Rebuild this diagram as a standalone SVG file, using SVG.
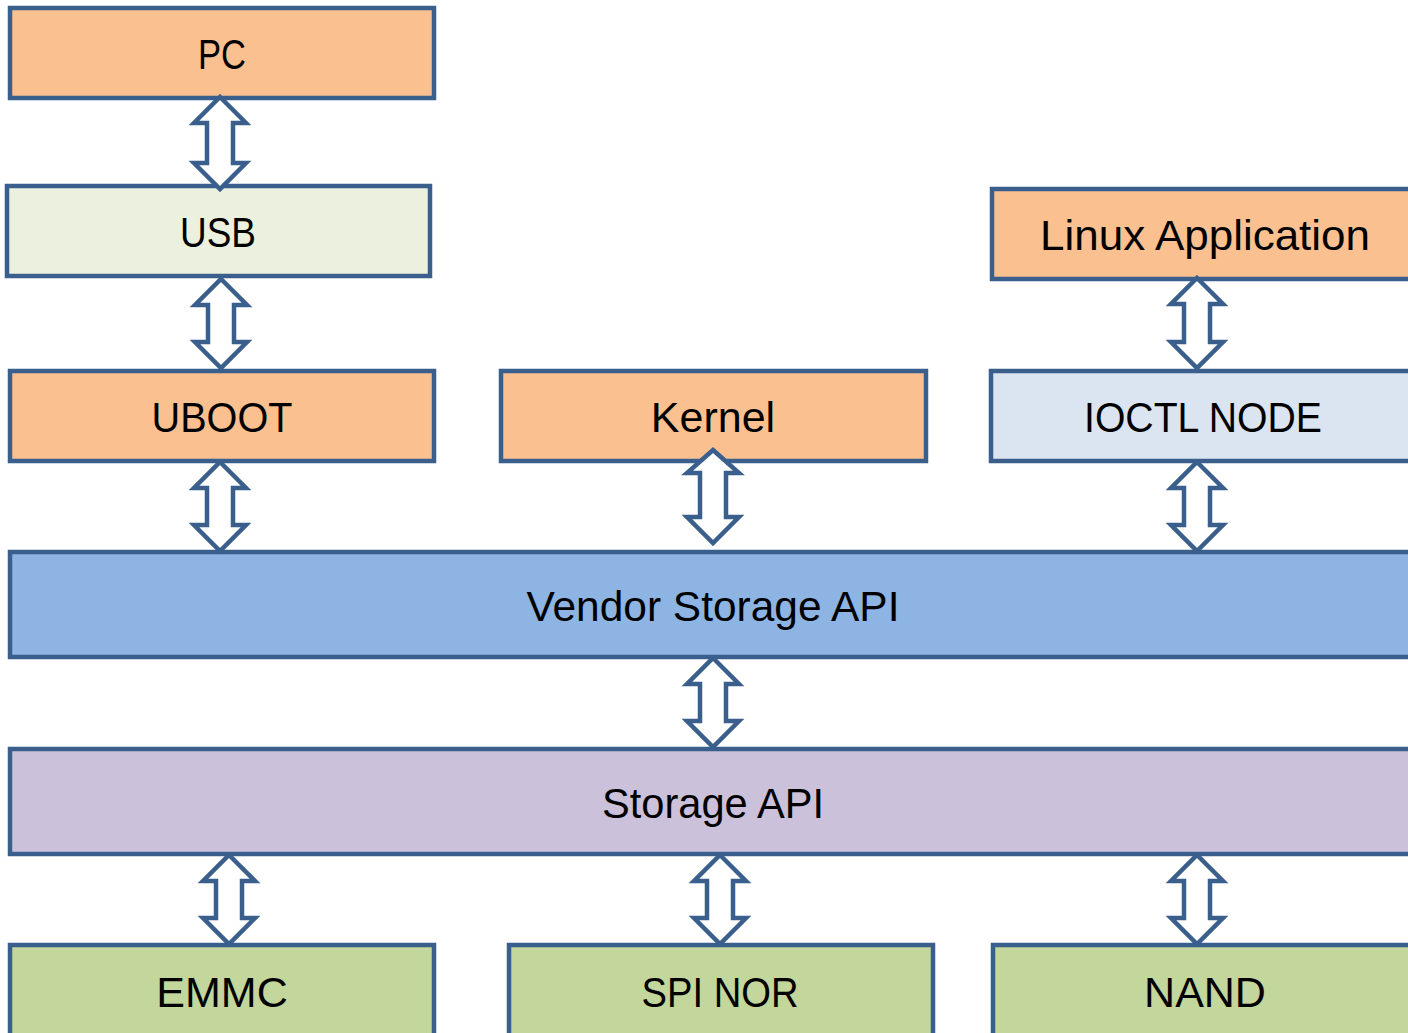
<svg xmlns="http://www.w3.org/2000/svg" width="1408" height="1033" viewBox="0 0 1408 1033">
<style>
.b{stroke:#3a5f8c;stroke-width:4.5}
.t{font-family:"Liberation Sans",Arial,sans-serif;font-size:43px;fill:#000;text-anchor:middle}
.a{fill:#fff;stroke:#3a5f8c;stroke-width:4.5;stroke-linejoin:miter}
.o{fill:#fac090}
</style>
<rect width="1408" height="1033" fill="#fff"/>
<g id="pc"><rect class="b o" x="10" y="8" width="424" height="90"/><text class="t" x="222" y="69" textLength="48" lengthAdjust="spacingAndGlyphs">PC</text></g>
<g id="usb"><rect class="b" fill="#ebf1de" x="7" y="186" width="423" height="90"/><text class="t" x="218" y="247" textLength="76" lengthAdjust="spacingAndGlyphs">USB</text></g>
<g id="uboot"><rect class="b o" x="10" y="371" width="424" height="90"/><text class="t" x="222" y="432" textLength="141" lengthAdjust="spacingAndGlyphs">UBOOT</text></g>
<g id="kernel"><rect class="b o" x="501" y="371" width="425" height="90"/><text class="t" x="713" y="432">Kernel</text></g>
<g id="linuxapp"><rect class="b o" x="992" y="189" width="430" height="90"/><text class="t" x="1205" y="250" textLength="330" lengthAdjust="spacingAndGlyphs">Linux Application</text></g>
<g id="ioctl"><rect class="b" fill="#dbe5f1" x="991" y="371" width="430" height="90"/><text class="t" x="1203" y="432" textLength="238" lengthAdjust="spacingAndGlyphs">IOCTL NODE</text></g>
<g id="vendor"><rect class="b" fill="#8eb4e3" x="10" y="552" width="1410" height="105"/><text class="t" x="713" y="621" textLength="373" lengthAdjust="spacingAndGlyphs">Vendor Storage API</text></g>
<g id="storage"><rect class="b" fill="#ccc1da" x="10" y="749" width="1410" height="105"/><text class="t" x="713" y="818" textLength="222" lengthAdjust="spacingAndGlyphs">Storage API</text></g>
<g id="emmc"><rect class="b" fill="#c3d69b" x="10" y="945" width="424" height="100"/><text class="t" x="222" y="1007">EMMC</text></g>
<g id="spinor"><rect class="b" fill="#c3d69b" x="509" y="945" width="424" height="100"/><text class="t" x="720" y="1007" textLength="157" lengthAdjust="spacingAndGlyphs">SPI NOR</text></g>
<g id="nand"><rect class="b" fill="#c3d69b" x="993" y="945" width="430" height="100"/><text class="t" x="1205" y="1007">NAND</text></g>
<g id="connectors">
<path class="a" d="M220,97 L246,123 L233,123 L233,163 L246,163 L220,189 L194,163 L207,163 L207,123 L194,123 Z"/>
<path class="a" d="M221,279 L247,305 L234,305 L234,342 L247,342 L221,368 L195,342 L208,342 L208,305 L195,305 Z"/>
<path class="a" d="M220,462 L246,488 L233,488 L233,525 L246,525 L220,551 L194,525 L207,525 L207,488 L194,488 Z"/>
<path class="a" d="M713,450 L739,473 L726,473 L726,517 L739,517 L713,543 L687,517 L700,517 L700,473 L687,473 Z"/>
<path class="a" d="M1197,278 L1223,304 L1210,304 L1210,342 L1223,342 L1197,368 L1171,342 L1184,342 L1184,304 L1171,304 Z"/>
<path class="a" d="M1197,462 L1223,488 L1210,488 L1210,525 L1223,525 L1197,551 L1171,525 L1184,525 L1184,488 L1171,488 Z"/>
<path class="a" d="M713,658 L739,684 L726,684 L726,721 L739,721 L713,747 L687,721 L700,721 L700,684 L687,684 Z"/>
<path class="a" d="M229,855 L255,881 L242,881 L242,918 L255,918 L229,944 L203,918 L216,918 L216,881 L203,881 Z"/>
<path class="a" d="M720,855 L746,881 L733,881 L733,918 L746,918 L720,944 L694,918 L707,918 L707,881 L694,881 Z"/>
<path class="a" d="M1197,855 L1223,881 L1210,881 L1210,918 L1223,918 L1197,944 L1171,918 L1184,918 L1184,881 L1171,881 Z"/>
</g>
</svg>
